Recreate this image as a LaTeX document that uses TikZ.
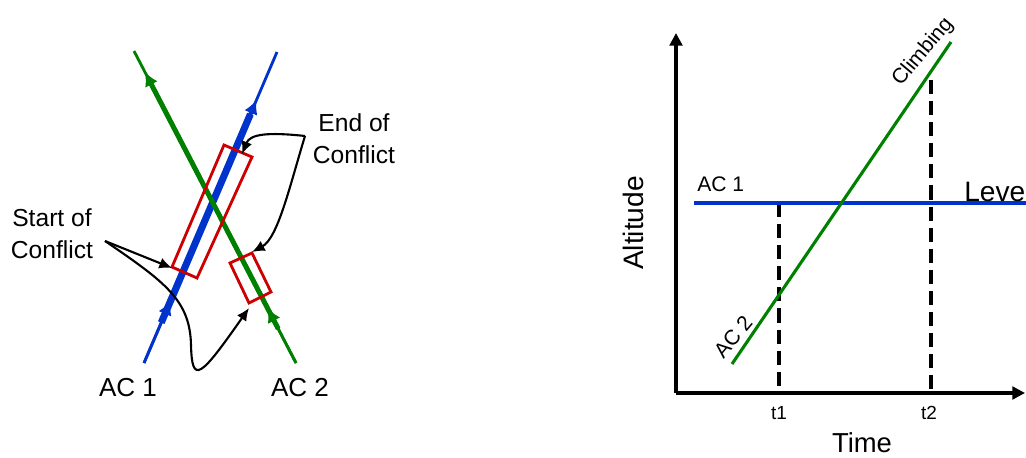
\documentclass[tikz,border=0pt]{standalone}
\usepackage{fontspec}
\setmainfont{Liberation Sans}
\usetikzlibrary{arrows.meta,calc}

\definecolor{acblue}{RGB}{0,51,204}
\definecolor{acgreen}{RGB}{0,128,0}
\definecolor{boxred}{RGB}{204,0,0}

\begin{document}
\begin{tikzpicture}[x=0.025cm, y=-0.025cm]
		\tikzstyle{lbl}=[inner sep=0pt, align=center, font=\fontsize{17.5}{22.5}\selectfont]
		\tikzstyle{big}=[inner sep=0pt, font=\fontsize{18.5}{22}\selectfont]
		\tikzstyle{small}=[inner sep=0pt, font=\fontsize{15}{18}\selectfont]
		\tikzstyle{connect}=[-{Latex[length=9pt,width=8pt]}, line width=1.5pt]
		\tikzstyle{track}=[-{Latex[length=10pt,width=10pt]}]
		\tikzstyle{box}=[draw=boxred, line width=2pt, line join=miter]
		\tikzstyle{axis}=[-{Triangle[length=9pt,width=9pt]}, line width=2.4pt]
		\tikzstyle{marker}=[line width=2.5pt, dash pattern=on 10pt off 5pt]
		\useasboundingbox (0,0) rectangle (1026,458);
		% left: plan view
		\coordinate (ac1s) at (144,363);
		\coordinate (ac1e) at (277,52);
		\coordinate (ac2s) at (296,363);
		\coordinate (ac2e) at (134,51);
		\coordinate (ac1lo) at ($(ac1s)!0.20!(ac1e)$);
		\coordinate (ac1mid) at ($(ac1s)!0.13!(ac1e)$);
		\coordinate (ac1hi) at ($(ac1s)!0.846!(ac1e)$);
		\coordinate (ac2lo) at ($(ac2s)!0.176!(ac2e)$);
		\coordinate (ac2mid) at ($(ac2s)!0.11!(ac2e)$);
		\coordinate (ac2hi) at ($(ac2s)!0.933!(ac2e)$);
		\draw[acblue, line width=5pt] (ac1mid) -- ($(ac1s)!0.80!(ac1e)$);
		\draw[acblue, line width=2pt] (ac1s) -- (ac1e);
		\draw[acblue, line width=2pt, track] (ac1s) -- (ac1lo);
		\draw[acblue, line width=3pt, track] (ac1mid) -- (ac1hi);
		\draw[acgreen, line width=3.5pt] (ac2mid) -- ($(ac2s)!0.90!(ac2e)$);
		\draw[acgreen, line width=2pt] (ac2s) -- (ac2e);
		\draw[acgreen, line width=2pt, track] (ac2s) -- (ac2lo);
		\draw[acgreen, line width=3pt, track] (ac2mid) -- (ac2hi);
		% conflict boxes
		\coordinate (sbox) at (172,268);
		\coordinate (ebox) at (242,154);
		\coordinate (sbox2) at (249,308);
		\coordinate (ebox2) at (252,252);
		\draw[box] (172,267) -- (224,145) -- (252,157) -- (197,278) -- cycle;
		\draw[box] (230,263) -- (252,253) -- (271,292) -- (249,303) -- cycle;
		% labels
		\node[lbl] (start) at (52,234) {Start of\\Conflict};
		\node[lbl] (end) at (354,139) {End of\\Conflict};
		\node[big] (ac1) at (128,388) {AC 1};
		\node[big] (ac2) at (300,388) {AC 2};
		\coordinate (sfrom) at (105,241);
		\coordinate (efrom) at (305,136);
		\draw[connect] (sfrom) -- (sbox);
		\draw[connect] (sfrom) .. controls (165,282) and (190,300) .. (191,345)
			.. controls (192,385) and (200,378) .. (sbox2);
		\draw[connect] (efrom) .. controls (268,132) and (250,134) .. (ebox);
		\draw[connect] (efrom) .. controls (290,185) and (278,238) .. (ebox2);
		% right: altitude over time
		\coordinate (o) at (676,393);
		\coordinate (ytop) at (676,33);
		\coordinate (xend) at (1025,393);
		\coordinate (t1top) at (779,203);
		\coordinate (t1bot) at (779,393);
		\coordinate (t2top) at (931,80);
		\coordinate (t2bot) at (931,393);
		\coordinate (lvls) at (694,203);
		\coordinate (lvle) at (1040,203);
		\coordinate (clms) at (732,364);
		\coordinate (clme) at (951,42);
		\draw[marker] (t1top) -- (t1bot);
		\draw[marker] (t2top) -- (t2bot);
		\draw[acblue, line width=2.3pt] (lvls) -- (lvle);
		\draw[acgreen, line width=2.2pt] (clms) -- (clme);
		\draw[axis] (o) -- (ytop);
		\draw[axis] (o) -- (xend);
		\node[small, anchor=west] (lvl1) at (697,184) {AC 1};
		\node[big, anchor=west, font=\fontsize{20}{22}\selectfont] (level) at (964,191) {Level};
		\node[small, rotate=50] (clmb) at (923,52) {Climbing};
		\node[small, rotate=50] (clm2) at (733,337) {AC 2};
		\node[inner sep=0pt, font=\fontsize{13.5}{16}\selectfont] (t1) at (779,413) {t1};
		\node[inner sep=0pt, font=\fontsize{13.5}{16}\selectfont] (t2) at (929,413) {t2};
		\node[inner sep=0pt, font=\fontsize{19.5}{22}\selectfont] (time) at (862,443) {Time};
		\node[inner sep=0pt, font=\fontsize{20}{22}\selectfont, rotate=90] (alt) at (633,223) {Altitude};
	\end{tikzpicture}
\end{document}
